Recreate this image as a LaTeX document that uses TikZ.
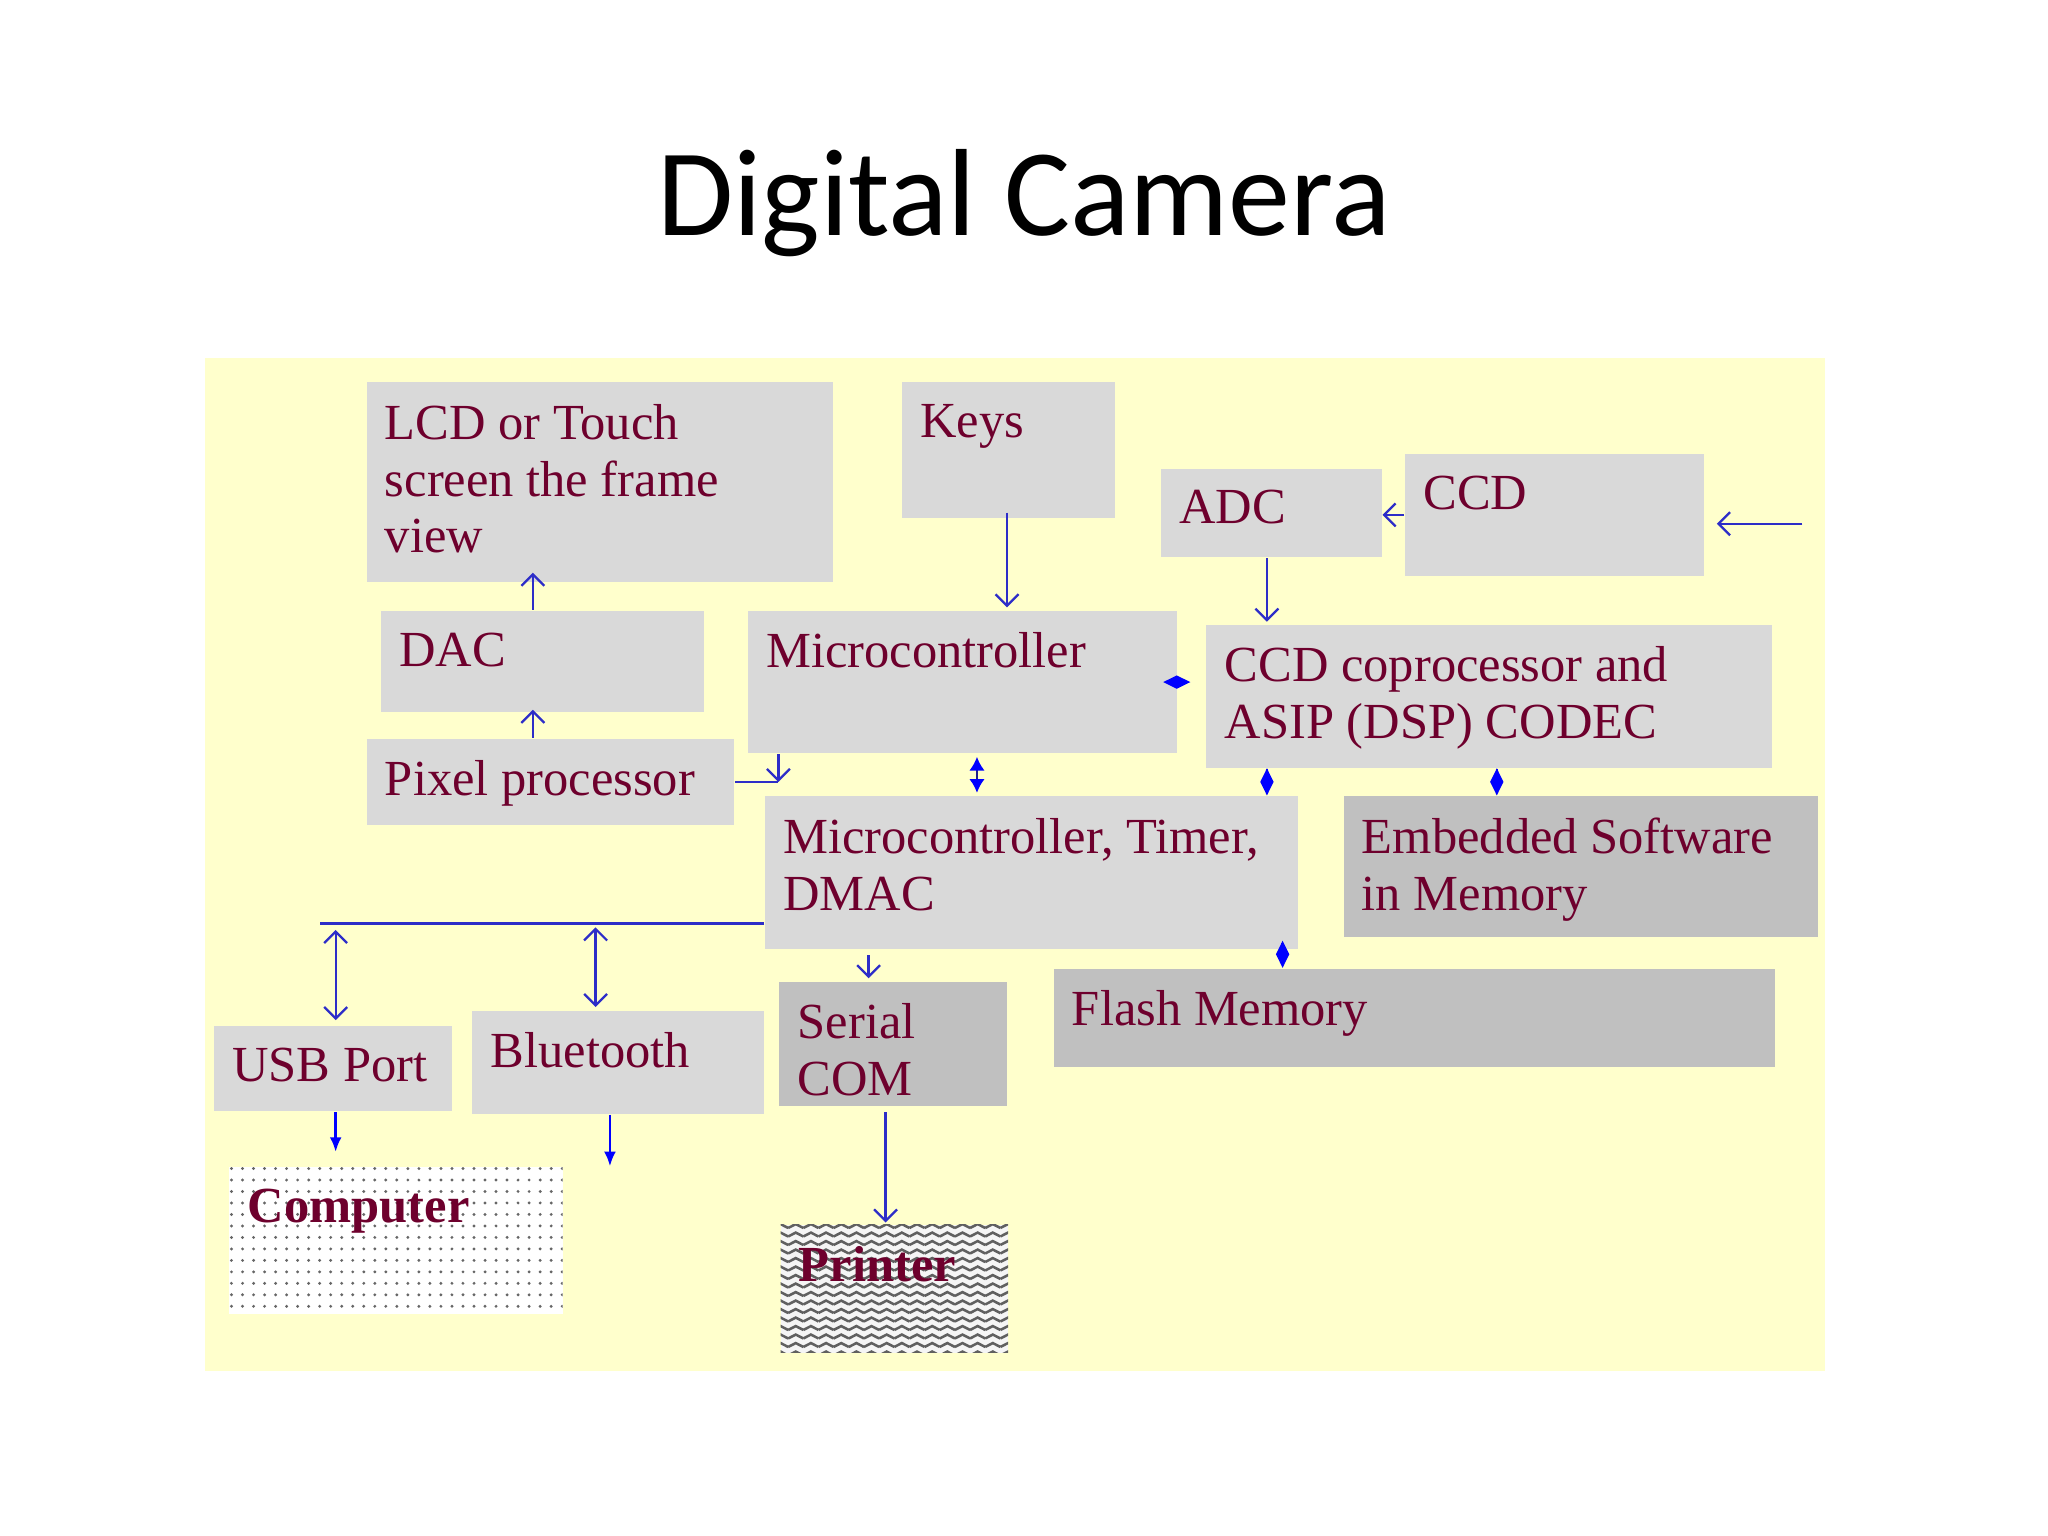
\documentclass[tikz,border=0pt]{standalone}
\usepackage{fontspec}
\setmainfont{Liberation Serif}
\newfontfamily\titlefont{Carlito}
\usetikzlibrary{positioning, calc, arrows.meta, patterns}

\definecolor{panel}{RGB}{255,255,204}
\definecolor{boxlt}{RGB}{217,217,217}
\definecolor{boxdk}{RGB}{192,192,192}
\definecolor{txtred}{RGB}{110,0,45}
\definecolor{wireblue}{RGB}{45,45,200}
\definecolor{tipblue}{RGB}{0,0,255}

% fill patterns for the two output devices
\pgfdeclarepatternformonly{pcdots}{\pgfqpoint{-1pt}{-1pt}}{\pgfqpoint{1pt}{1pt}}{\pgfqpoint{2.4pt}{2.5pt}}{
  \pgfpathcircle{\pgfpointorigin}{0.35pt}\pgfusepath{fill}}
\pgfdeclarepatternformonly{pzigzag}{\pgfqpoint{-0.2pt}{-0.2pt}}{\pgfqpoint{3.5pt}{2pt}}{\pgfqpoint{3.3pt}{1.85pt}}{
  \pgfsetlinewidth{0.55pt}
  \pgfpathmoveto{\pgfqpoint{0pt}{0.45pt}}
  \pgfpathlineto{\pgfqpoint{1.65pt}{1.3pt}}
  \pgfpathlineto{\pgfqpoint{3.3pt}{0.45pt}}
  \pgfusepath{stroke}}

\tikzset{
  blk/.style={rectangle, anchor=north west, inner sep=0pt, fill=boxlt},
  dblk/.style={blk, fill=boxdk},
  txt/.style={anchor=north west, align=left, inner xsep=0.14cm, inner ysep=0.166cm,
    text=txtred, font=\fontsize{11}{12.4}\selectfont},
  btxt/.style={txt, font=\bfseries\fontsize{11}{12.4}\selectfont},
  ln/.style={draw=wireblue, line width=0.5pt},
  arr/.style={ln, -{Straight Barb[length=2.5pt,width=5pt]}},
  darr/.style={ln, {Straight Barb[length=2.5pt,width=5pt]}-{Straight Barb[length=2.5pt,width=5pt]}},
  farr/.style={draw=tipblue, line width=0.6pt, -{Latex[length=3.2pt,width=2.6pt]}},
  dfarr/.style={draw=wireblue!70!black, line width=0.5pt,
    {Latex[length=3pt,width=3.4pt,color=tipblue]}-{Latex[length=3pt,width=3.4pt,color=tipblue]}},
  dia/.style={draw=tipblue, line width=0.5pt, -{Diamond[length=5.9pt,width=2.9pt]}}
}

\begin{document}
\begin{tikzpicture}[x=0.01cm, y=-0.01cm]

  \fill[white] (0,0) rectangle (1568,1176);
  \useasboundingbox (0,0) rectangle (1568,1176);

  \node[anchor=base, font=\titlefont\fontsize{27}{32}\selectfont] (title) at (784,180) {Digital Camera};

  \fill[panel] (157,274) rectangle (1397,1050);

  % boxes
  \node[blk, minimum width=3.57cm, minimum height=1.53cm] (lcd) at (280,292) {};
  \node[blk, minimum width=1.63cm, minimum height=1.04cm] (keys) at (690,292) {};
  \node[blk, minimum width=1.69cm, minimum height=0.68cm] (adc) at (888,358) {};
  \node[blk, minimum width=2.29cm, minimum height=0.93cm] (ccd) at (1075,347) {};
  \node[blk, minimum width=2.47cm, minimum height=0.77cm] (dac) at (291,467) {};
  \node[blk, minimum width=3.28cm, minimum height=1.09cm] (mcu) at (572,467) {};
  \node[blk, minimum width=4.33cm, minimum height=1.09cm] (ccdp) at (923,478) {};
  \node[blk, minimum width=2.81cm, minimum height=0.66cm] (pix) at (280,565) {};
  \node[blk, minimum width=4.08cm, minimum height=1.17cm] (mcut) at (585,609) {};
  \node[dblk, minimum width=3.63cm, minimum height=1.08cm] (emb) at (1028,609) {};
  \node[dblk, minimum width=5.52cm, minimum height=0.75cm] (flash) at (806,741) {};
  \node[blk, minimum width=1.82cm, minimum height=0.65cm] (usb) at (163,785) {};
  \node[blk, minimum width=2.23cm, minimum height=0.79cm] (bt) at (361,773) {};
  \node[dblk, minimum width=1.74cm, minimum height=0.95cm] (ser) at (596,751) {};
  \node[blk, fill=none, preaction={fill=white}, pattern=pcdots, pattern color=gray!80!black,
    minimum width=2.55cm, minimum height=1.12cm] (comp) at (175,893) {};
  \node[blk, fill=none, preaction={fill=gray!8}, pattern=pzigzag, pattern color=gray!75!black,
    minimum width=1.74cm, minimum height=0.98cm] (prn) at (597,937) {};

  % texts
  \node[txt] (lcdT) at (lcd.north west) {LCD or Touch\\screen the frame\\view};
  \node[txt] (keysT) at (keys.north west) {Keys};
  \node[txt] (adcT) at (adc.north west) {ADC};
  \node[txt] (ccdT) at (ccd.north west) {CCD};
  \node[txt] (dacT) at (dac.north west) {DAC};
  \node[txt] (mcuT) at (mcu.north west) {Microcontroller};
  \node[txt] (ccdpT) at (ccdp.north west) {CCD coprocessor and\\ASIP (DSP) CODEC};
  \node[txt] (pixT) at (pix.north west) {Pixel processor};
  \node[txt] (mcutT) at (mcut.north west) {Microcontroller, Timer,\\DMAC};
  \node[txt] (embT) at (emb.north west) {Embedded Software\\in Memory};
  \node[txt] (flashT) at (flash.north west) {Flash Memory};
  \node[txt] (usbT) at (usb.north west) {USB Port};
  \node[txt] (btT) at (bt.north west) {Bluetooth};
  \node[txt] (serT) at (ser.north west) {Serial\\COM};
  \node[btxt] (compT) at (comp.north west) {Computer};
  \node[btxt] (prnT) at (prn.north west) {Printer};

  % free ends
  \coordinate (light) at (1380,401);
  \coordinate (btend) at (467,893);

  % connectors
  \draw[arr] ($(keys.south west)+(81,-5)$) -- ($(mcu.north west)+(199,-2)$);
  \draw[arr] ($(dac.north west)+(117,0)$) -- ($(lcd.south west)+(128,-8)$);
  \draw[arr] ($(pix.north west)+(128,0)$) -- ($(dac.south west)+(117,-2)$);
  \draw[arr] ($(mcu.south west)+(24,0)$) coordinate (m1) -- (m1 |- pix.east);
  \draw[ln] (pix.east) -- (m1 |- pix.east);
  \draw[dfarr] ($(mcu.south west)+(176,2)$) -- ($(mcut.north west)+(163,-2)$);
  \draw[dia, shorten >=-0.11cm, shorten <=0.14cm] (ccdp.west |- mcu.east) -- (mcu.east);
  \draw[arr] ($(adc.south west)+(82,0)$) -- ($(ccdp.north west)+(47,-2)$);
  \draw[arr] (ccd.west) -- (adc.east |- ccd.west);
  \draw[arr, shorten >=0.09cm] (light) -- (light -| ccd.east);
  \draw[dia] ($(ccdp.south west)+(47,0)$) -- ($(mcut.north west)+(385,0)$);
  \draw[dia] ($(ccdp.south west)+(223,0)$) -- ($(emb.north west)+(118,0)$);
  \draw[dia] ($(mcut.south west)+(397,0)$) -- ($(flash.north west)+(176,0)$);

  % bus to the ports
  \draw[ln, line width=0.7pt] ($(mcut.north west)+(0,98)$) -- ++(-340,0);
  \draw[darr] ($(usb.north west)+(94,-73)$) -- ($(usb.north west)+(94,-4)$);
  \draw[darr] ($(bt.north west)+(95,-63)$) -- ($(bt.north west)+(95,-2)$);
  \draw[arr] ($(mcut.south west)+(80,4)$) -- ($(ser.north west)+(69,-2)$);
  \draw[farr] ($(usb.south west)+(94,0)$) -- ($(comp.north west)+(82,-11)$);
  \draw[farr] ($(bt.south west)+(106,0)$) -- (btend);
  \draw[arr] ($(ser.south west)+(82,4)$) -- ($(prn.north west)+(81,-1)$);

\end{tikzpicture}
\end{document}
